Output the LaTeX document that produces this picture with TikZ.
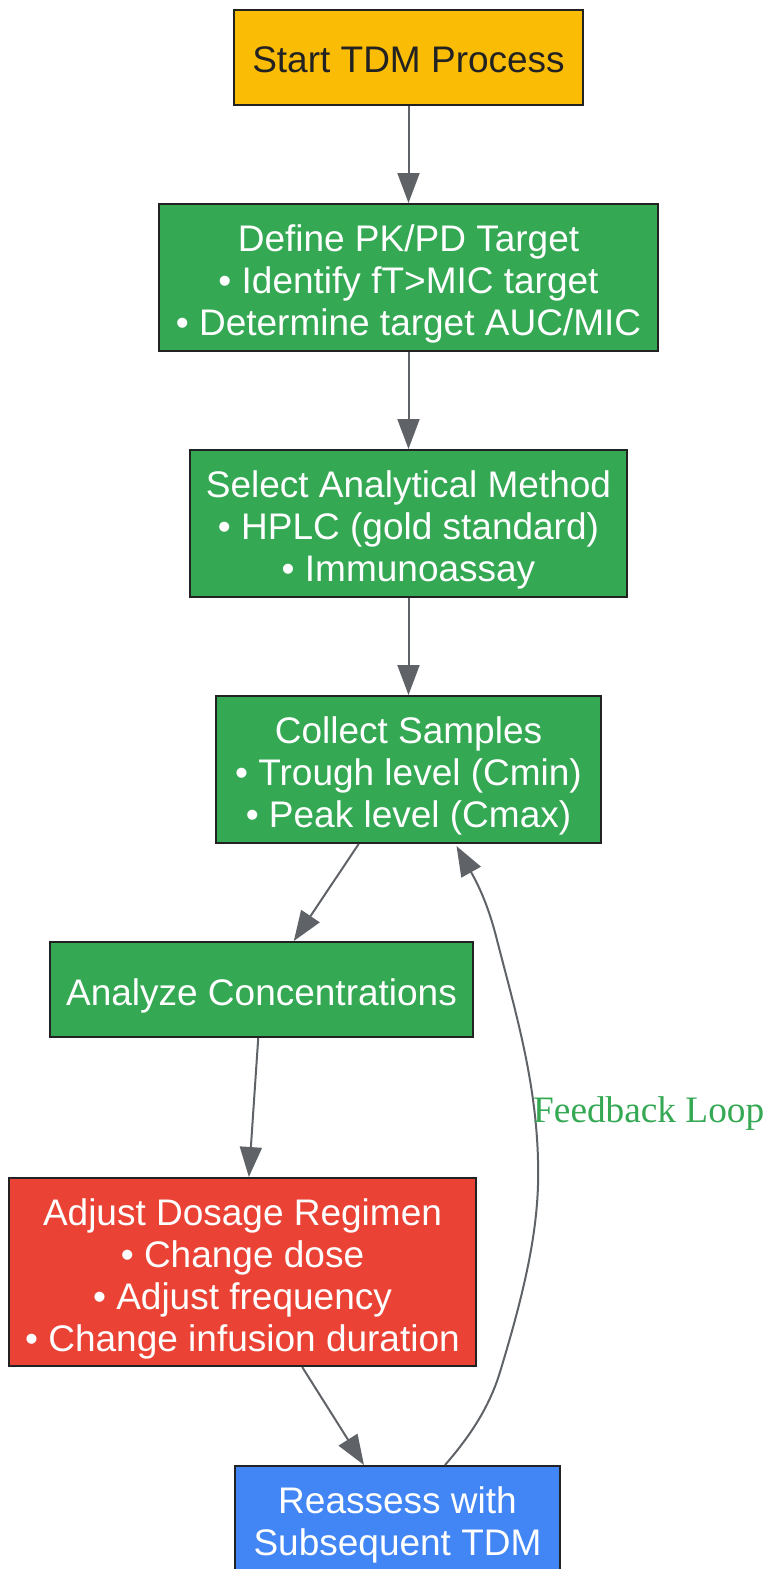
\documentclass[tikz,border=0pt]{standalone}
\usepackage{fontspec}
\setmainfont{Liberation Sans}
\newfontfamily\labelserif{Liberation Serif}
\usetikzlibrary{arrows.meta,calc}
\definecolor{cyellow}{HTML}{FBBC05}
\definecolor{cgreen}{HTML}{34A853}
\definecolor{cred}{HTML}{EA4335}
\definecolor{cblue}{HTML}{4285F4}
\definecolor{cedge}{HTML}{5F6368}
\definecolor{cborder}{HTML}{222222}
\tikzset{
  box/.style={draw=cborder, line width=2pt, inner sep=0pt},
  boxtext/.style={inner sep=0pt, align=center,
    font=\fontsize{37}{42}\selectfont, text=white},
  conn/.style={draw=cedge, line width=2pt, -{Triangle[length=30pt,width=22pt]}},
}
\begin{document}
\begin{tikzpicture}[x=1pt,y=-1pt]
\useasboundingbox (0,0) rectangle (763,1569);
\node[box, fill=cyellow, minimum width=349pt, minimum height=95pt] (start) at (408.5,57.5) {};
\node[boxtext, text=cborder] (starttext) at ($(start.center)+(0,2)$) {Start TDM Process};
\node[box, fill=cgreen, minimum width=499pt, minimum height=147pt] (define) at (408.5,277.5) {};
\node[boxtext] (definetext) at ($(define.center)+(0,6.5)$) {Define PK/PD Target\\• Identify fT>MIC target\\• Determine target AUC/MIC};
\node[box, fill=cgreen, minimum width=437pt, minimum height=147pt] (select) at (408.5,523.5) {};
\node[boxtext] (selecttext) at ($(select.center)+(0,6.5)$) {Select Analytical Method\\• HPLC (gold standard)\\• Immunoassay};
\node[box, fill=cgreen, minimum width=385pt, minimum height=147pt] (collect) at (408.5,769.5) {};
\node[boxtext] (collecttext) at ($(collect.center)+(0,6.5)$) {Collect Samples\\• Trough level (Cmin)\\• Peak level (Cmax)};
\node[box, fill=cgreen, minimum width=423pt, minimum height=95pt] (analyze) at (261.5,989.5) {};
\node[boxtext] (analyzetext) at ($(analyze.center)+(0,6)$) {Analyze Concentrations};
\node[box, fill=cred, minimum width=467pt, minimum height=188pt] (adjust) at (242.5,1272) {};
\node[boxtext] (adjusttext) at ($(adjust.center)+(0,6.5)$) {Adjust Dosage Regimen\\• Change dose\\• Adjust frequency\\• Change infusion duration};
\node[box, fill=cblue, minimum width=325pt, minimum height=105pt] (reassess) at (397.5,1518.5) {};
\node[boxtext] (reassesstext) at ($(reassess.center)+(0,6.5)$) {Reassess with\\Subsequent TDM};
\draw[conn] (start) -- (define);
\draw[conn] (define) -- (select);
\draw[conn] (select) -- (collect);
\draw[conn] (collect) -- (analyze);
\draw[conn] (analyze) -- (adjust);
\draw[conn] (adjust) -- (reassess);
\coordinate (fbstart) at ($(reassess.north)+(47.5,0)$);
\coordinate (fbend) at ($(collect.south)+(48,2)$);
\draw[conn] (fbstart) .. controls (472,1434) and (490,1405) .. (500,1372)
  .. controls (528,1280) and (540,1220) .. (538,1160)
  .. controls (536,1080) and (515,1010) .. (497,940)
  .. controls (489,908) and (480,888) .. (fbend);
\node[anchor=west, inner sep=0pt, text=cgreen, font=\labelserif\fontsize{37.3}{42}\selectfont] (fblabel) at (533,1114) {Feedback Loop};
\end{tikzpicture}
\end{document}
